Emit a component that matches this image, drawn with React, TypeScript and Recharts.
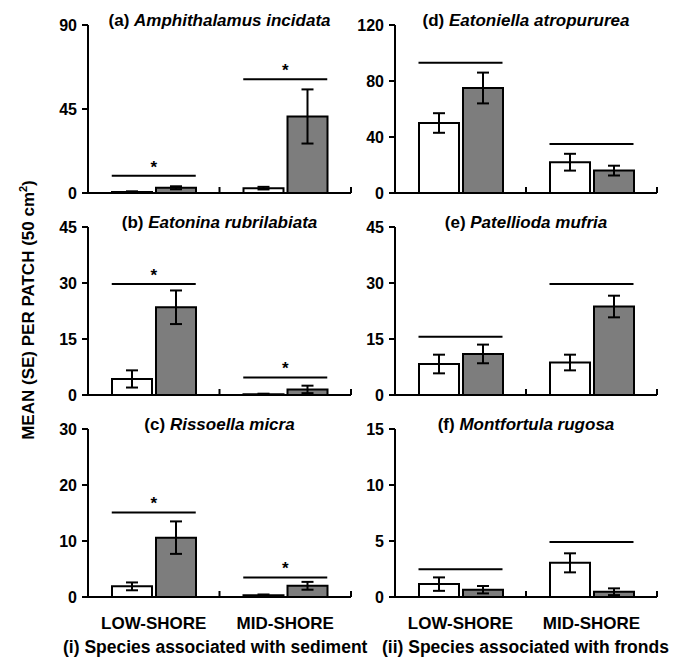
import { BarChart, Bar, XAxis, YAxis, ErrorBar, ReferenceLine } from 'recharts';

const FONT = "'Liberation Sans', Arial, sans-serif";

// categories on the x axis
const shores = ['LOW-SHORE', 'MID-SHORE'];

// panels a-c (left column) then d-f (right column)
const panelLetters = ['a', 'b', 'c', 'd', 'e', 'f'];
const species = [
  'Amphithalamus incidata',
  'Eatonina rubrilabiata',
  'Rissoella micra',
  'Eatoniella atropururea',
  'Patellioda mufria',
  'Montfortula rugosa',
];
const yTicks = [
  [0, 45, 90],
  [0, 15, 30, 45],
  [0, 10, 20, 30],
  [0, 40, 80, 120],
  [0, 15, 30, 45],
  [0, 5, 10, 15],
];

// white bars and grey bars, [low-shore, mid-shore]
const whiteMean = [[0.6, 2.6], [4.3, 0.2], [1.9, 0.3], [50, 22], [8.3, 8.7], [1.15, 3.05]];
const whiteSe = [[0.3, 0.7], [2.3, 0.15], [0.7, 0.15], [7, 6], [2.5, 2.1], [0.6, 0.85]];
const greyMean = [[2.8, 41], [23.5, 1.5], [10.6, 2.0], [75, 16], [11, 23.7], [0.65, 0.47]];
const greySe = [[0.8, 14.5], [4.5, 1.0], [2.9, 0.7], [11, 3.5], [2.5, 2.9], [0.33, 0.3]];

// comparison line heights above each pair, and whether it is starred
const sigLine = [[9.3, 61], [29.7, 4.7], [15.1, 3.5], [93, 35], [15.6, 29.7], [2.47, 4.9]];
const sigStar = [[true, true], [true, true], [true, true], [false, false], [false, false], [false, false]];

const groupCaptions = ['(i) Species associated with sediment', '(ii) Species associated with fronds'];

// layout
const cols = [
  { left: 0, width: 355, yAxisW: 88, right: 4 },
  { left: 355, width: 325, yAxisW: 40, right: 23 },
];
const plotTops = [25, 227, 429];
const PLOT_H = 168;
const TOP = 25;
const BAR = 40;
const GAP = 4;

const textStyle = { fill: '#000', fontSize: 16, fontWeight: 700, fontFamily: FONT };

// horizontal comparison line over one pair of bars (+ optional star)
function SigMark(props: any) {
  const { x1, x2, y1, idx, star } = props;
  const band = (x2 - x1) / shores.length;
  const cx = x1 + band * (idx + 0.5);
  const hw = BAR + GAP / 2;
  return (
    <g>
      <line x1={cx - hw} x2={cx + hw} y1={y1} y2={y1} stroke="#000" strokeWidth={2} />
      {star && (
        <text x={cx} y={y1 - 3} textAnchor="middle" fill="#000" fontSize={17} fontWeight={700} fontFamily={FONT}>
          *
        </text>
      )}
    </g>
  );
}

// small upward ticks on the x axis between and after the categories
function AxisTicks(props: any) {
  const { x1, x2, y1 } = props;
  const band = (x2 - x1) / shores.length;
  return (
    <g>
      {shores.map((s, i) => {
        const x = x1 + band * (i + 1);
        return <line key={s} x1={x} x2={x} y1={y1} y2={y1 - 6} stroke="#000" strokeWidth={2} />;
      })}
    </g>
  );
}

function Panel({ col, row }: { col: number; row: number }) {
  const p = col * 3 + row;
  const c = cols[col];
  const bottom = row === 2;
  const xh = bottom ? 36 : 8;
  const plotW = c.width - c.yAxisW - c.right;
  const ticks = yTicks[p];
  const data = shores.map((shore, i) => ({
    shore,
    white: whiteMean[p][i],
    whiteSe: whiteSe[p][i],
    grey: greyMean[p][i],
    greySe: greySe[p][i],
  }));

  return (
    <div style={{ position: 'absolute', left: c.left, top: plotTops[row] - TOP }}>
      <BarChart
        width={c.width}
        height={TOP + PLOT_H + xh}
        data={data}
        margin={{ top: TOP, right: c.right, left: 0, bottom: 0 }}
        barSize={BAR}
        barGap={GAP}
      >
        <XAxis
          dataKey="shore"
          height={xh}
          axisLine={{ stroke: '#000', strokeWidth: 2 }}
          tickLine={false}
          tickMargin={14}
          tick={bottom ? { ...textStyle, fontSize: 17 } : false}
          interval={0}
        />
        <YAxis
          width={c.yAxisW}
          domain={[0, ticks[ticks.length - 1]]}
          ticks={ticks}
          interval={0}
          allowDataOverflow
          axisLine={{ stroke: '#000', strokeWidth: 2 }}
          tickLine={{ stroke: '#000', strokeWidth: 2 }}
          tickSize={6}
          tickMargin={5}
          tick={textStyle}
        />
        <Bar dataKey="white" fill="#fff" stroke="#000" strokeWidth={2} isAnimationActive={false}>
          <ErrorBar dataKey="whiteSe" width={6} stroke="#000" strokeWidth={2} />
        </Bar>
        <Bar dataKey="grey" fill="#7d7d7d" stroke="#000" strokeWidth={2} isAnimationActive={false}>
          <ErrorBar dataKey="greySe" width={6} stroke="#000" strokeWidth={2} />
        </Bar>
        <ReferenceLine y={0} ifOverflow="visible" shape={(sp: any) => <AxisTicks {...sp} />} />
        {shores.map((s, i) => (
          <ReferenceLine
            key={s}
            y={sigLine[p][i]}
            ifOverflow="visible"
            shape={(sp: any) => <SigMark {...sp} idx={i} star={sigStar[p][i]} />}
          />
        ))}
      </BarChart>
      <div
        style={{
          position: 'absolute',
          left: c.yAxisW,
          width: plotW,
          top: TOP - 14,
          lineHeight: '20px',
          textAlign: 'center',
          fontFamily: FONT,
          fontSize: 17,
          fontWeight: 700,
          whiteSpace: 'nowrap',
        }}
      >
        ({panelLetters[p]}) <i>{species[p]}</i>
      </div>
    </div>
  );
}

export default function App() {
  return (
    <div style={{ position: 'absolute', left: 0, top: 0, width: 680, height: 664, background: '#fff', fontFamily: FONT }}>
      {[0, 1].map((col) => [0, 1, 2].map((row) => <Panel key={`${col}-${row}`} col={col} row={row} />))}
      <div
        style={{
          position: 'absolute',
          left: 26,
          top: 310,
          transform: 'translate(-50%, -50%) rotate(-90deg)',
          whiteSpace: 'nowrap',
          fontSize: 17,
          fontWeight: 700,
          lineHeight: '20px',
        }}
      >
        MEAN (SE) PER PATCH (50 cm<sup style={{ fontSize: 11 }}>2</sup>)
      </div>
      {groupCaptions.map((t, i) => (
        <div
          key={t}
          style={{
            position: 'absolute',
            left: i === 0 ? 63 : 382,
            top: 637,
            lineHeight: '20px',
            fontSize: 17.5,
            fontWeight: 700,
            whiteSpace: 'nowrap',
          }}
        >
          {t}
        </div>
      ))}
    </div>
  );
}
